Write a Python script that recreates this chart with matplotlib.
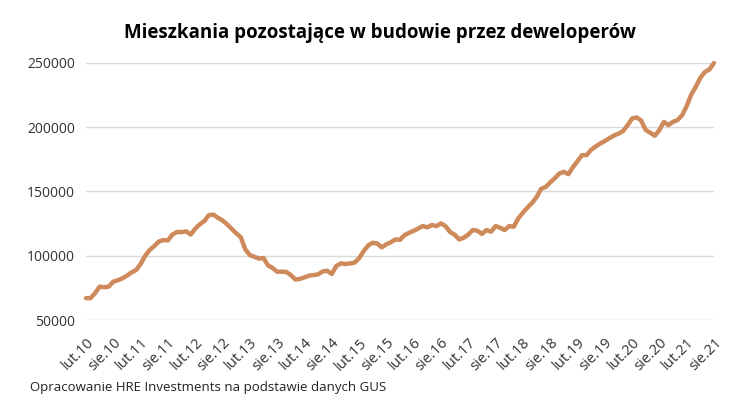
import matplotlib
matplotlib.use("Agg")
import matplotlib.pyplot as plt

values = [
    67000, 67000, 71000, 76000, 75500, 76000, 79800, 81000, 82400, 84500,
    87000, 88900, 93500, 100000, 104500, 107500, 111000, 112200, 112000, 116500,
    118500, 118400, 119000, 116500, 121000, 124500, 127000, 131600, 132000, 129500,
    127500, 124500, 121000, 117500, 114500, 105000, 100500, 99200, 97800, 98200,
    92500, 90500, 87600, 87600, 87400, 85000, 81500, 82000, 83200, 84500,
    85000, 85500, 87800, 88300, 85800, 92000, 94100, 93600, 94000, 94600,
    98000, 103500, 108000, 110100, 109500, 106500, 108900, 110500, 112700, 112400,
    116100, 117800, 119400, 121200, 123100, 122100, 123900, 123100, 125200, 123000,
    118500, 116400, 112700, 114000, 116500, 120000, 119500, 117000, 120000, 118700,
    123100, 121800, 120000, 123100, 122600, 129100, 133500, 137500, 141000, 145500,
    152000, 153500, 157000, 160300, 164000, 165300, 163500, 169000, 173500, 178300,
    178300, 182500, 185000, 187300, 189300, 191500, 193500, 195000, 197000, 201500,
    206800, 207700, 205200, 197800, 195700, 193400, 197800, 204200, 201700, 204200,
    205600, 209400, 216500, 225500, 231500, 238500, 243000, 245000, 250000,
]

tick_labels = [
    "lut.10", "sie.10", "lut.11", "sie.11", "lut.12", "sie.12", "lut.13", "sie.13",
    "lut.14", "sie.14", "lut.15", "sie.15", "lut.16", "sie.16", "lut.17", "sie.17",
    "lut.18", "sie.18", "lut.19", "sie.19", "lut.20", "sie.20", "lut.21", "sie.21",
]
y_ticks = [50000, 100000, 150000, 200000, 250000]

title = "Mieszkania pozostające w budowie przez deweloperów"
source = "Opracowanie HRE Investments na podstawie danych GUS"

plt.rcParams['font.family'] = ['Open Sans', 'DejaVu Sans']

fig = plt.figure(figsize=(7.36, 4.08), dpi=100)
ax = fig.add_axes([86/736, 1-320/408, (714-86)/736, (320-63)/408])

x = list(range(len(values)))
ax.plot(x, values, color='#CF8A5B', lw=3.2, solid_joinstyle='round', solid_capstyle='round', clip_on=False, zorder=3)

ax.set_xlim(0, len(values) - 1)
ax.set_ylim(50000, 250000)
ax.set_yticks(y_ticks)
ax.set_yticklabels([str(v) for v in y_ticks], fontsize=10, color='#333333')
ax.set_xticks(list(range(0, len(values), 6)))
ax.set_xticklabels(tick_labels, rotation=45, ha='right', va='top', rotation_mode='anchor',
                   fontsize=10.5, color='#333333')
ax.tick_params(axis='both', length=0)
ax.tick_params(axis='x', pad=11)
ax.tick_params(axis='y', pad=8)
ax.grid(axis='y', color='#D9D9D9', lw=1)
ax.set_axisbelow(True)
for s in ax.spines.values():
    s.set_visible(False)

fig.text(380/736, 1-33/408, title, ha='center', va='center', fontsize=13.5, fontweight='bold', color='black')
fig.text(30/736, 1-388/408, source, ha='left', va='center', fontsize=9.5, color='#222222')

fig.savefig("out.png", dpi=100)
